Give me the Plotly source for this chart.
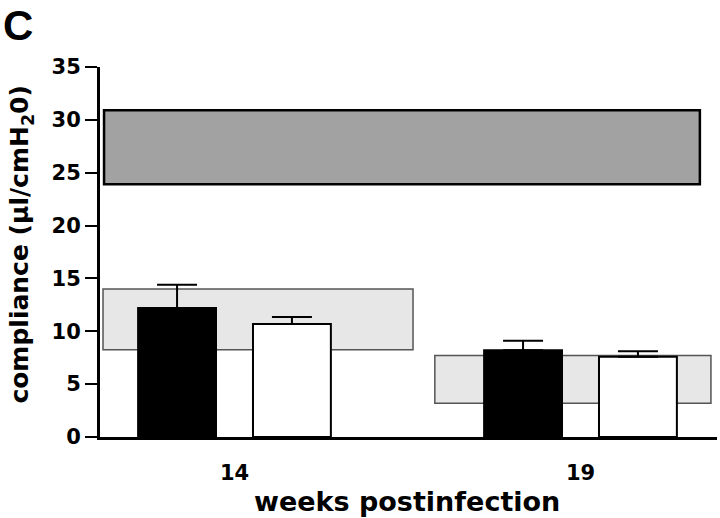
import plotly.graph_objects as go

# ---- data ----
weeks = ["14", "19"]
cat_pos = [0, 1]
infected_mean = [12.2, 8.2]      # black bars
infected_err = [2.2, 0.9]
control_mean = [10.7, 7.6]       # white bars
control_err = [0.65, 0.5]
normal_range = [23.9, 30.9]      # dark band (uninfected reference)
band_low = [8.25, 3.2]           # light bands per time point
band_high = [14.0, 7.7]
y_ticks = [0, 5, 10, 15, 20, 25, 30, 35]

TICKFONT = dict(family="DejaVu Sans", size=21, color="black", weight="bold")

fig = go.Figure()

fig.add_trace(go.Bar(
    x=cat_pos, y=infected_mean, name="infected",
    marker=dict(color="black", line=dict(color="black", width=2)),
    error_y=dict(type="data", symmetric=False, array=infected_err,
                 arrayminus=[0, 0], color="black", thickness=2, width=20),
))
fig.add_trace(go.Bar(
    x=cat_pos, y=control_mean, name="control",
    marker=dict(color="white", line=dict(color="black", width=2)),
    error_y=dict(type="data", symmetric=False, array=control_err,
                 arrayminus=[0, 0], color="black", thickness=2, width=20),
))

# dark band (full width)
fig.add_shape(type="rect", xref="x", yref="y", layer="below",
              x0=cat_pos[0] - 0.377, x1=cat_pos[1] + 0.345,
              y0=normal_range[0], y1=normal_range[1],
              fillcolor="#a2a2a2", line=dict(color="black", width=2.5))
# light bands per week
band_extent = [(-0.380, 0.516), (-0.421, 0.377)]
for p, lo, hi, (a, b) in zip(cat_pos, band_low, band_high, band_extent):
    fig.add_shape(type="rect", xref="x", yref="y", layer="below",
                  x0=p + a, x1=p + b, y0=lo, y1=hi,
                  fillcolor="#e7e7e7", line=dict(color="#555555", width=1.5))

fig.update_layout(
    width=720, height=518,
    margin=dict(l=100, r=3, t=67, b=81),
    paper_bgcolor="white", plot_bgcolor="white",
    showlegend=False,
    barmode="group", bargap=0.336, bargroupgap=0.322,
    title=dict(text="<b>C</b>", x=0.004, xanchor="left", xref="container",
               y=0.98, yanchor="top", yref="container", pad=dict(t=0, l=0),
               font=dict(family="Liberation Sans", size=42, color="black")),
    xaxis=dict(range=[-0.3887, 1.3945], tickvals=cat_pos, ticktext=weeks,
               showgrid=False, zeroline=False, showline=True,
               linecolor="black", linewidth=3,
               ticks="outside", ticklen=15, tickcolor="rgba(0,0,0,0)",
               tickfont=dict(family="DejaVu Sans", size=21, color="black", weight="bold")),
    yaxis=dict(range=[0, 35], tickvals=y_ticks,
               showgrid=False, zeroline=False, showline=True,
               linecolor="black", linewidth=3,
               ticks="outside", ticklen=12, tickwidth=2, tickcolor="black",
               tickfont=TICKFONT),
    annotations=[
        dict(text="compliance (µl/cmH<sub>2</sub>0)", xref="paper", yref="paper",
             x=-0.128, y=0.52, xanchor="center", yanchor="middle",
             textangle=-90, showarrow=False,
             font=dict(family="DejaVu Sans", size=25, color="black", weight="bold")),
        dict(text="weeks postinfection", xref="paper", yref="paper",
             x=0.497, y=-0.173, xanchor="center", yanchor="middle",
             showarrow=False,
             font=dict(family="DejaVu Sans", size=27, color="black", weight="bold")),
    ],
)

fig.write_html("out.html", config={"displayModeBar": False},
               post_script="document.body.style.margin='0px';document.body.style.padding='0px';")
